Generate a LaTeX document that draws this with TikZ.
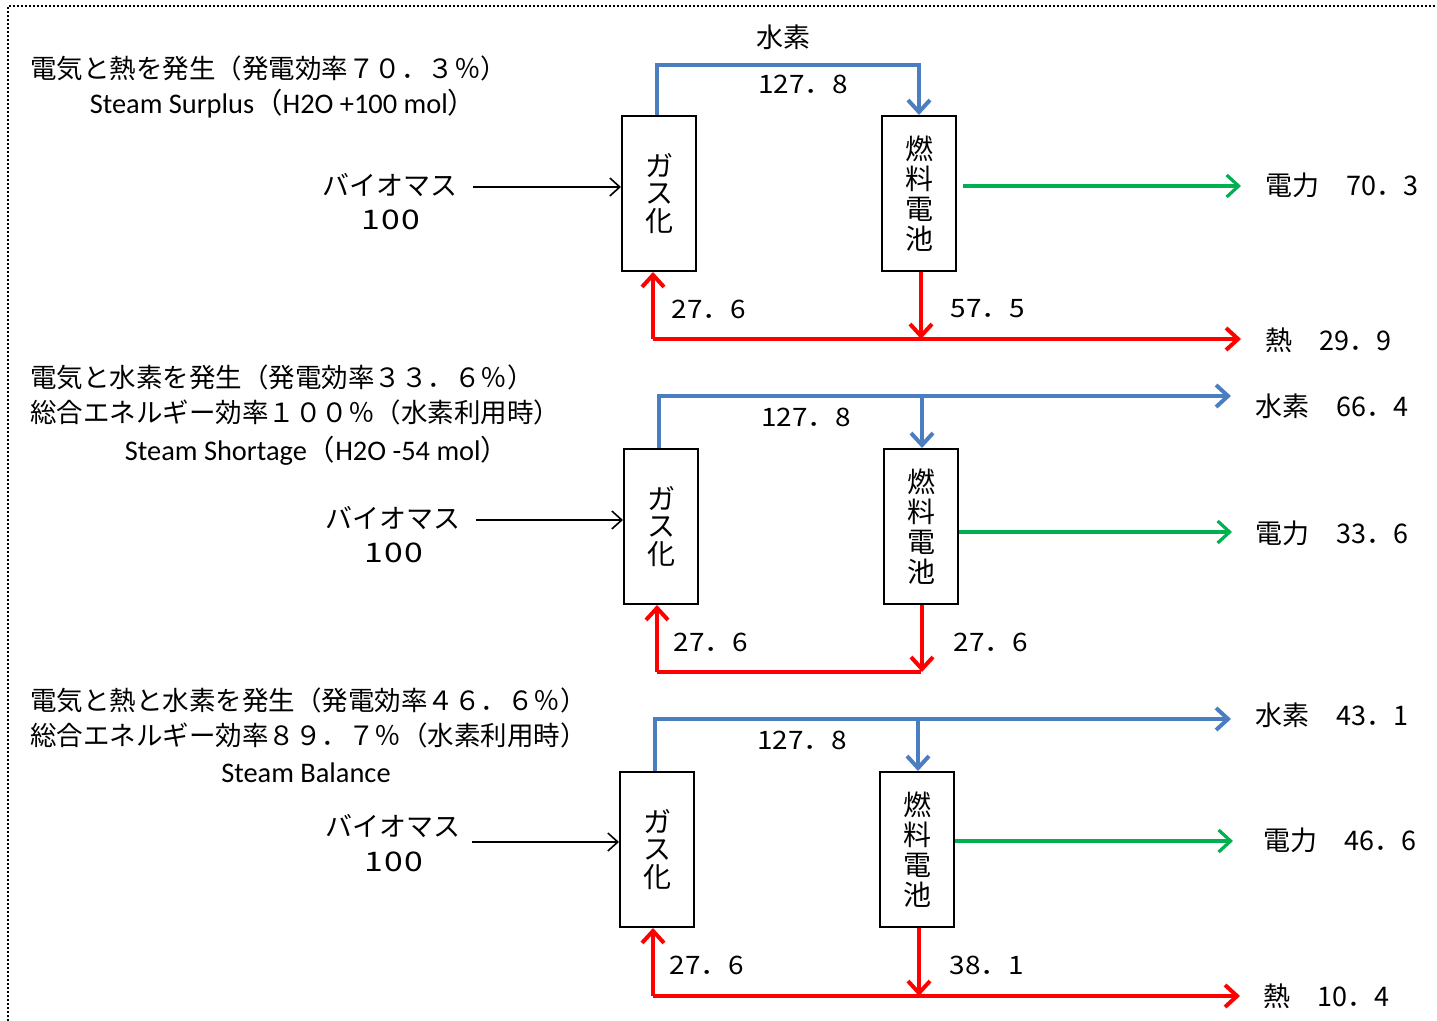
\documentclass[tikz,border=0pt]{standalone}
\usepackage{fontspec}
\setmainfont{Noto Sans CJK JP}
\newfontfamily\lat{Carlito}
\newfontfamily\wnum[FakeStretch=1.1]{Noto Sans CJK JP}
\newfontfamily\wwnum[FakeStretch=1.25]{Noto Sans CJK JP}
\usetikzlibrary{arrows.meta}
\definecolor{fblue}{RGB}{74,126,193}
\definecolor{fgreen}{RGB}{0,176,80}
\definecolor{fred}{RGB}{255,0,0}
\begin{document}
\begin{tikzpicture}[x=0.5pt,y=-0.5pt,
  title/.style={font=\fontsize{13.25}{16}\selectfont, inner sep=0pt, anchor=west},
  jp/.style={font=\fontsize{13.5}{16}\selectfont, inner sep=0pt},
  hund/.style={font=\fontsize{13.5}{16}\selectfont\wwnum\addfontfeature{LetterSpace=6}, inner sep=0pt},
  num/.style={font=\fontsize{12.7}{15}\selectfont\wnum, inner sep=0pt},
  outlbl/.style={font=\fontsize{13.5}{16}\selectfont, inner sep=0pt, anchor=west},
  steam/.style={font=\fontsize{14.2}{17}\selectfont, inner sep=0pt},
  unit/.style={draw, line width=1pt, minimum width=37pt, inner sep=0pt, align=center},
  gasbox/.style={unit, minimum height=77.5pt, font=\fontsize{14}{13.8}\selectfont},
  fcbox/.style={unit, minimum height=77.5pt, font=\fontsize{14}{15}\selectfont},
  thinarr/.style={line width=0.8pt, -{Straight Barb[length=5pt,width=9pt]}},
  flow/.style={line width=2pt, -{Straight Barb[length=6pt,width=11pt]}},
  bflow/.style={flow, fblue},
  gflow/.style={flow, fgreen, line width=1.6pt},
  rflow/.style={flow, fred},
  border/.style={line width=0.8pt, dash pattern=on 0.8pt off 1.2pt}
]
\useasboundingbox (0,0) rectangle (1437,1021);
\draw[border] (8,1021) -- (8,6) -- (1437,6);

% ---------------- Panel 1 ----------------
\node[title] (t1a) at (30,68) {電気と熱を発生（発電効率７０．３％）};
\node[steam] (t1b) at (283,104) {{\lat Steam Surplus}（{\lat H2O +100 mol}）};
\node[jp] (b1) at (390,185) {バイオマス};
\node[hund] (n1) at (391,220) {100};
\node[gasbox] (g1) at (659,193.5) {ガ\\ス\\化};
\node[fcbox] (f1) at (919,193.5) {燃\\料\\電\\池};
\node[jp] (h1) at (783,37) {水素};
\node[num] (v1) at (803,84) {127．8};
\node[outlbl] (e1) at (1265,185) {電力　70．3};
\node[outlbl] (q1) at (1265,340) {熱　29．9};
\node[num] (a1) at (709,309) {27．6};
\node[num] (c1) at (988,309) {57．5};
\coordinate (r1) at (653,339);
\coordinate (top1) at (657,65);
\coordinate (gr1) at (962,186);
\draw[thinarr] ([xshift=7.5pt,yshift=-1pt]b1.east) -- ([yshift=-1pt]b1.east -| g1.west);
\draw[bflow] (g1.north -| top1) -- (top1) -| (f1.north);
\draw[gflow] ([xshift=3pt]f1.east |- gr1) -- ([xshift=-12pt]e1.west |- gr1);
\draw[rflow] (r1) -- (r1 |- g1.south);
\draw[rflow] (r1) -- ([xshift=-12pt]q1.west |- r1);
\draw[rflow] ([xshift=1pt]f1.south) -- ([xshift=1pt]f1.south |- r1);

% ---------------- Panel 2 ----------------
\node[title] (t2a) at (30,377) {電気と水素を発生（発電効率３３．６％）};
\node[title] (t2b) at (30,412) {総合エネルギー効率１００％（水素利用時）};
\node[steam] (t2c) at (317,451) {{\lat Steam Shortage}（{\lat H2O -54 mol}）};
\node[jp] (b2) at (393,518) {バイオマス};
\node[hund] (n2) at (394,553) {100};
\node[gasbox] (g2) at (661,526.5) {ガ\\ス\\化};
\node[fcbox] (f2) at (921,526.5) {燃\\料\\電\\池};
\node[num] (v2) at (806,417) {127．8};
\node[outlbl] (h2) at (1255,406) {水素　66．4};
\node[outlbl] (e2) at (1255,533) {電力　33．6};
\node[num] (a2) at (711,642) {27．6};
\node[num] (c2) at (991,642) {27．6};
\coordinate (top2) at (659,396);
\coordinate (r2) at (657,672);
\coordinate (j2) at (922,396);
\coordinate (gr2) at (958,532);
\draw[thinarr] ([xshift=7.5pt,yshift=-1pt]b2.east) -- ([yshift=-1pt]b2.east -| g2.west);
\draw[bflow] (g2.north -| top2) -- (top2) -- ([xshift=-12pt]h2.west |- top2);
\draw[bflow] (j2) -- (f2.north -| j2);
\draw[gflow] (f2.east |- gr2) -- ([xshift=-11.5pt]e2.west |- gr2);
\draw[rflow] (r2) -- (r2 |- g2.south);
\draw[fred, line width=2pt] (r2) -- (r2 -| f2.south);
\draw[rflow] ([xshift=0.5pt]f2.south) -- ([xshift=0.5pt]f2.south |- r2);

% ---------------- Panel 3 ----------------
\node[title] (t3a) at (30,700) {電気と熱と水素を発生（発電効率４６．６％）};
\node[title] (t3b) at (30,735) {総合エネルギー効率８９．７％（水素利用時）};
\node[steam] (t3c) at (306,773) {\lat Steam Balance};
\node[jp] (b3) at (393,826) {バイオマス};
\node[hund] (n3) at (394,862) {100};
\node[gasbox] (g3) at (657,849.5) {ガ\\ス\\化};
\node[fcbox] (f3) at (917,849.5) {燃\\料\\電\\池};
\node[num] (v3) at (802,740) {127．8};
\node[outlbl] (h3) at (1255,715) {水素　43．1};
\node[outlbl] (e3) at (1263,840) {電力　46．6};
\node[outlbl] (q3) at (1263,996) {熱　10．4};
\node[num] (a3) at (707,965) {27．6};
\node[num] (c3) at (987,965) {38．1};
\coordinate (top3) at (655,719);
\coordinate (r3) at (653,996);
\coordinate (j3) at (918,719);
\coordinate (gr3) at (954,841);
\draw[thinarr] ([xshift=5.5pt,yshift=-8pt]b3.east) -- ([yshift=-8pt]b3.east -| g3.west);
\draw[bflow] (g3.north -| top3) -- (top3) -- ([xshift=-12pt]h3.west |- top3);
\draw[bflow] (j3) -- (f3.north -| j3);
\draw[gflow] (f3.east |- gr3) -- ([xshift=-15pt]e3.west |- gr3);
\draw[rflow] (r3) -- (r3 |- g3.south);
\draw[rflow] (r3) -- ([xshift=-11.5pt]q3.west |- r3);
\draw[rflow] ([xshift=1pt]f3.south) -- ([xshift=1pt]f3.south |- r3);
\end{tikzpicture}
\end{document}
